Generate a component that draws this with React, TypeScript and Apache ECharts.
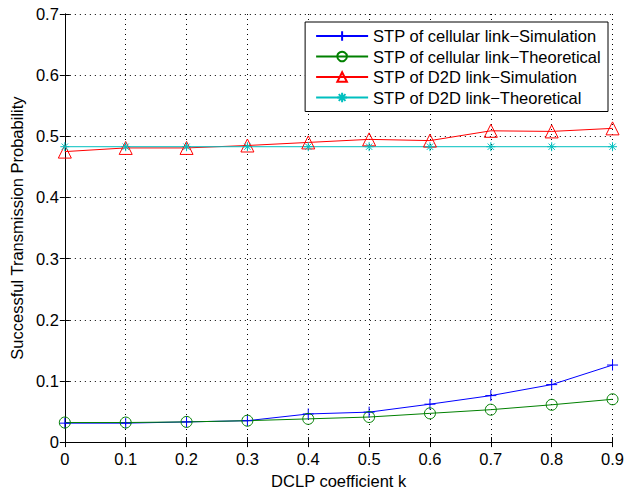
import React, { useEffect, useRef } from "react";
import * as echarts from "echarts";

const kValues = [0, 0.1, 0.2, 0.3, 0.4, 0.5, 0.6, 0.7, 0.8, 0.9];
const cellSim = [0.031, 0.031, 0.033, 0.035, 0.046, 0.049, 0.062, 0.076, 0.094, 0.126];
const cellTheo = [0.032, 0.032, 0.033, 0.035, 0.038, 0.041, 0.047, 0.053, 0.061, 0.07];
const d2dSim = [0.475, 0.481, 0.481, 0.485, 0.49, 0.495, 0.493, 0.509, 0.508, 0.513];
const d2dTheo = [0.483, 0.483, 0.483, 0.483, 0.483, 0.483, 0.483, 0.483, 0.483, 0.483];
const seriesNames = [
  "STP of cellular link\u2212Simulation",
  "STP of cellular link\u2212Theoretical",
  "STP of D2D link\u2212Simulation",
  "STP of D2D link\u2212Theoretical",
];

const FONT = "Liberation Sans, Arial, Helvetica, sans-serif";
const FS = 16.5;
const PLUS = "path://M0,-1L0,1M-1,0L1,0";
const STAR = "path://M0,-1L0,1M-1,0L1,0M-0.7,-0.7L0.7,0.7M-0.7,0.7L0.7,-0.7";
const TRI = "path://M0,-1L0.95,0.7L-0.95,0.7Z";

const fmt = (v: number) => (v === 0 ? "0" : v.toFixed(1));

export default function App() {
  const ref = useRef<HTMLDivElement>(null);
  useEffect(() => {
    if (!ref.current) return;
    const chart = echarts.init(ref.current, null, { renderer: "svg" });
    const mk = (name: string, vals: number[], color: string, symbol: string, size: number) => ({
      name,
      type: "line",
      data: kValues.map((k, i) => [k, vals[i]]),
      symbol,
      symbolSize: size,
      showSymbol: true,
      lineStyle: { color, width: 1 },
      itemStyle: { color: "rgba(0,0,0,0)", borderColor: color, borderWidth: 1 },
      emphasis: { disabled: true },
      z: 3,
    });
    const axisLineStyle = { lineStyle: { color: "#000", width: 1 } };
    chart.setOption({
      animation: false,
      backgroundColor: "#fff",
      textStyle: { fontFamily: FONT },
      grid: { left: 62, right: 12, top: 14, bottom: 46, containLabel: false },
      legend: {
        orient: "vertical",
        right: 19,
        top: 22,
        backgroundColor: "#fff",
        borderColor: "#000",
        borderWidth: 1,
        borderRadius: 0,
        padding: [4, 7, 4, 10],
        itemWidth: 52,
        itemHeight: 12,
        itemGap: 0.5,
        textStyle: { fontFamily: FONT, fontSize: FS, lineHeight: 20, color: "#000" },
        data: seriesNames,
      },
      xAxis: [
        {
          type: "value",
          min: 0,
          max: 0.9,
          interval: 0.1,
          name: "DCLP coefficient k",
          nameLocation: "middle",
          nameGap: 27,
          nameTextStyle: { fontFamily: FONT, fontSize: FS, color: "#000" },
          axisLine: axisLineStyle,
          axisTick: { inside: true, length: 5, lineStyle: { color: "#000" } },
          axisLabel: { formatter: fmt, fontFamily: FONT, fontSize: FS, color: "#000", margin: 8 },
          splitLine: { show: true, lineStyle: { color: "#000", type: [1, 4], width: 1 } },
        },
        {
          type: "value",
          position: "top",
          min: 0,
          max: 0.9,
          interval: 0.1,
          axisLine: axisLineStyle,
          axisTick: { inside: true, length: 5, lineStyle: { color: "#000" } },
          axisLabel: { show: false },
          splitLine: { show: false },
        },
      ],
      yAxis: [
        {
          type: "value",
          min: 0,
          max: 0.7,
          interval: 0.1,
          name: "Successful Transmission Probability",
          nameLocation: "middle",
          nameGap: 36,
          nameTextStyle: { fontFamily: FONT, fontSize: FS, color: "#000" },
          axisLine: { show: true, ...axisLineStyle },
          axisTick: { show: true, inside: true, length: 5, lineStyle: { color: "#000" } },
          axisLabel: { formatter: fmt, fontFamily: FONT, fontSize: FS, color: "#000", margin: 6 },
          splitLine: { show: true, lineStyle: { color: "#000", type: [1, 4], width: 1 } },
        },
        {
          type: "value",
          position: "right",
          min: 0,
          max: 0.7,
          interval: 0.1,
          axisLine: { show: true, ...axisLineStyle },
          axisTick: { show: true, inside: true, length: 5, lineStyle: { color: "#000" } },
          axisLabel: { show: false },
          splitLine: { show: false },
        },
      ],
      series: [
        mk(seriesNames[0], cellSim, "#0000ff", PLUS, 11),
        mk(seriesNames[1], cellTheo, "#008000", "circle", 11),
        mk(seriesNames[2], d2dSim, "#ff0000", TRI, 13),
        mk(seriesNames[3], d2dTheo, "#00bfbf", STAR, 9),
      ],
    });
    return () => chart.dispose();
  }, []);
  return (
    <div
      ref={ref}
      style={{ position: "fixed", left: 0, top: 0, width: 627, height: 494 }}
    />
  );
}
